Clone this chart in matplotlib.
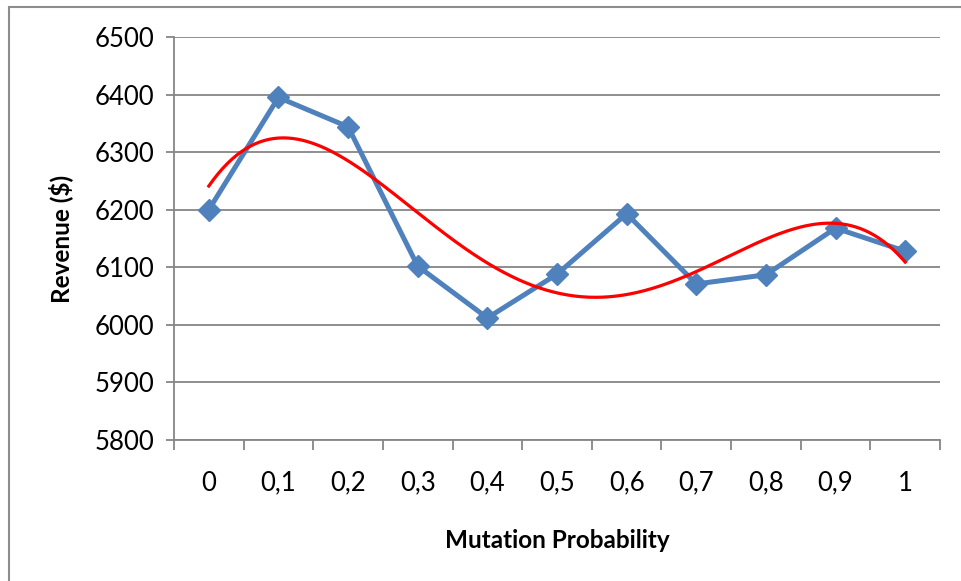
import numpy as np
import matplotlib.pyplot as plt
from matplotlib.patches import Rectangle

# mutation probability vs revenue
mutation_prob = ["0", "0,1", "0,2", "0,3", "0,4", "0,5", "0,6", "0,7", "0,8", "0,9", "1"]
revenue = [6200, 6395, 6344, 6102, 6012, 6088, 6193, 6071, 6087, 6168, 6128]
y_ticks = [5800, 5900, 6000, 6100, 6200, 6300, 6400, 6500]

plt.rcParams['font.family'] = ['Lato', 'DejaVu Sans']

fig = plt.figure(figsize=(9.62, 5.81), dpi=100)
ax = fig.add_axes([174 / 962, 1 - 440 / 581, (940 - 174) / 962, (440 - 37) / 581])

# outer chart frame (runs off the right and bottom edges)
fig.patches.append(Rectangle((9 / 962, -0.05), 1.0, 1.05 - 7 / 581,
                             transform=fig.transFigure, fill=False,
                             edgecolor='#8c8c8c', linewidth=1.5))

pos = np.arange(len(revenue))
ax.plot(pos, revenue, color='#4F81BD', linewidth=3.6, marker='D',
        markersize=11, zorder=3)

# polynomial trendline (order 4) fitted on category index
coef = np.polyfit(pos + 1, revenue, 4)
xs = np.linspace(0, len(revenue) - 1, 300)
ax.plot(xs, np.polyval(coef, xs + 1), color='#FF0000', linewidth=2.3, zorder=4)

ax.set_xlim(-0.5, len(revenue) - 0.5)
ax.set_ylim(5800, 6500)
ax.set_yticks(y_ticks)
ax.set_xticks(pos)
ax.set_xticklabels(mutation_prob)
ax.set_xticks(np.arange(-0.5, len(revenue)), minor=True)
ax.grid(axis='y', color='#868686', linewidth=1.3)
ax.set_axisbelow(True)

for s in ['top', 'right']:
    ax.spines[s].set_visible(False)
for s in ['left', 'bottom']:
    ax.spines[s].set_color('#868686')
    ax.spines[s].set_linewidth(1.3)

ax.tick_params(axis='y', length=6, color='#868686', width=1.3, labelsize=18.5, pad=8)
ax.tick_params(axis='x', which='major', length=0, labelsize=18.5, pad=22)
ax.tick_params(axis='x', which='minor', length=7, color='#868686', width=1.3)

ax.set_xlabel('Mutation Probability', fontsize=17.5, fontweight='bold', labelpad=24)
ax.set_ylabel('Revenue ($)', fontsize=17.5, fontweight='bold', labelpad=16)

fig.savefig('out.png', dpi=100)
